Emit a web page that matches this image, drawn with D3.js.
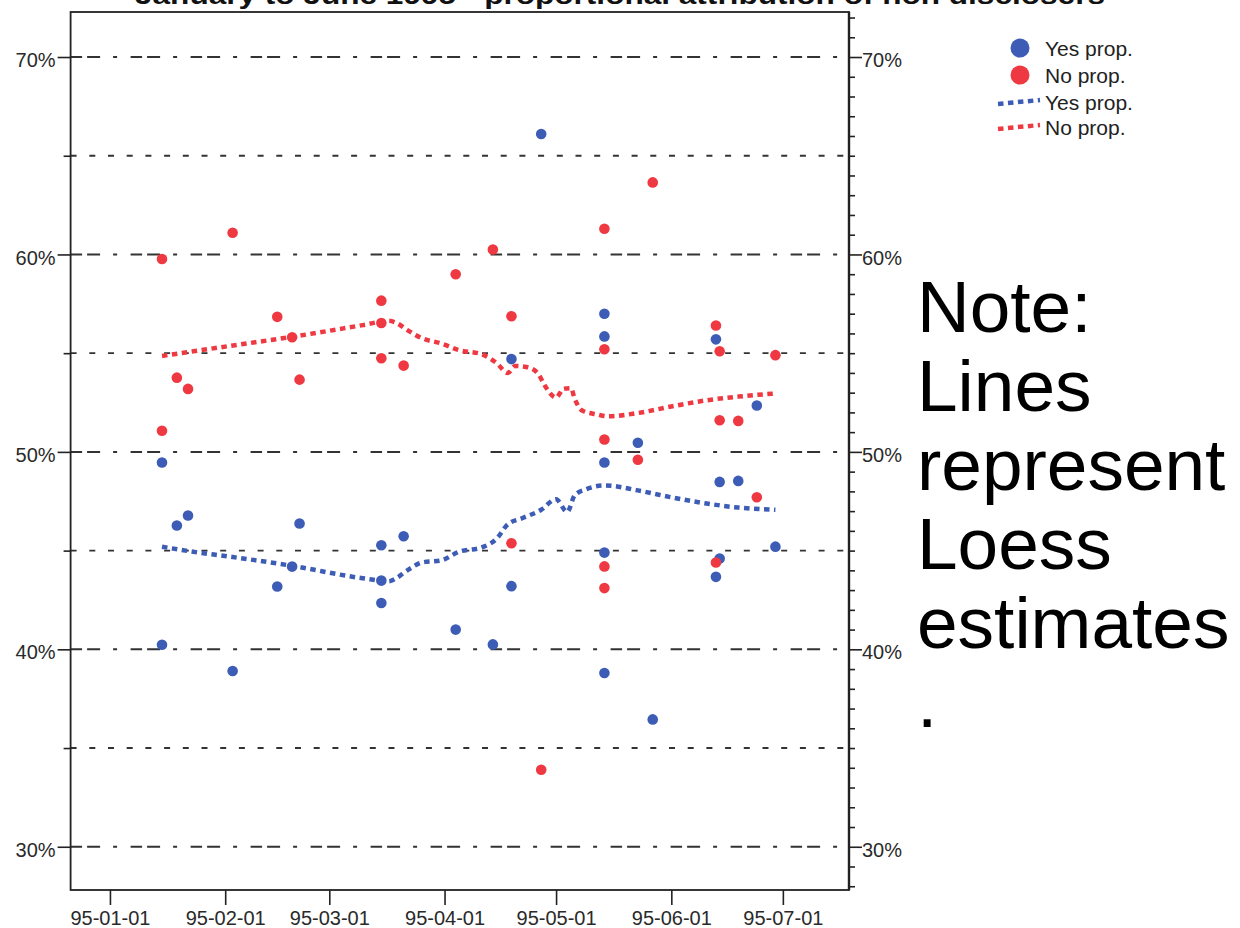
<!DOCTYPE html>
<html>
<head>
<meta charset="utf-8">
<script src="https://cdn.jsdelivr.net/npm/d3@7"></script>
<style>
  body { margin: 0; background: #fff; }
  svg { display: block; font-family: Arial, "Liberation Sans", sans-serif; }
</style>
</head>
<body>
<svg id="chart" width="1240" height="928"></svg>
<script>
// ---- Poll data: share of non-disclosers attributed to each side ----
const pollDates = [
  "1995-01-15","1995-01-15","1995-01-19","1995-01-22","1995-02-03",
  "1995-02-15","1995-02-19","1995-02-21","1995-03-15","1995-03-15",
  "1995-03-15","1995-03-21","1995-04-04","1995-04-14","1995-04-19",
  "1995-04-19","1995-04-27","1995-05-14","1995-05-14","1995-05-14",
  "1995-05-14","1995-05-14","1995-05-23","1995-05-27","1995-06-13",
  "1995-06-13","1995-06-14","1995-06-14","1995-06-19","1995-06-24",
  "1995-06-29"
];
const yesProp = [
  49.46, 40.23, 46.27, 46.78, 38.90,
  43.18, 44.19, 46.37, 45.27, 43.48,
  42.35, 45.73, 41.00, 40.25, 54.70,
  43.20, 66.10, 57.00, 55.85, 49.46,
  44.90, 38.80, 50.46, 36.45, 55.70,
  43.67, 48.48, 44.60, 48.53, 52.35,
  45.20
];
const noProp = [
  51.07, 59.77, 53.76, 53.19, 61.10,
  56.84, 55.81, 53.66, 54.74, 56.53,
  57.66, 54.37, 59.00, 60.25, 45.37,
  56.87, 33.90, 43.10, 44.20, 50.63,
  55.20, 61.30, 49.60, 63.65, 44.40,
  56.40, 51.60, 55.10, 51.57, 47.70,
  54.90
];

// ---- Loess estimates ----
const loessYesDates = [
  "1995-01-15","1995-01-23","1995-02-02","1995-02-19","1995-03-10",
  "1995-03-17","1995-03-19","1995-03-22","1995-03-26","1995-03-31",
  "1995-04-05","1995-04-11","1995-04-15","1995-04-18","1995-04-22",
  "1995-04-27","1995-05-01","1995-05-04","1995-05-06","1995-05-09",
  "1995-05-14","1995-05-23","1995-06-01","1995-06-10","1995-06-19",
  "1995-06-29"
];
const loessYes = [
  45.20, 44.95, 44.70, 44.23, 43.60,
  43.45, 43.60, 44.00, 44.40, 44.50,
  44.95, 45.16, 45.60, 46.33, 46.65,
  47.07, 47.60, 46.96, 47.80, 48.10,
  48.30, 48.05, 47.70, 47.40, 47.18,
  47.07
];
const loessNoDates = [
  "1995-01-15","1995-02-02","1995-02-19","1995-03-10","1995-03-17",
  "1995-03-19","1995-03-22","1995-03-26","1995-03-31","1995-04-05",
  "1995-04-11","1995-04-15","1995-04-18","1995-04-20","1995-04-23",
  "1995-04-26","1995-04-28","1995-05-01","1995-05-03","1995-05-05",
  "1995-05-06","1995-05-08","1995-05-12","1995-05-15","1995-05-23",
  "1995-06-01","1995-06-10","1995-06-19","1995-06-29"
];
const loessNo = [
  54.86, 55.36, 55.83, 56.42, 56.64,
  56.54, 56.17, 55.75, 55.50, 55.15,
  54.95, 54.50, 54.00, 54.35, 54.30,
  54.00, 53.35, 52.75, 53.20, 53.23,
  52.70, 52.10, 51.90, 51.80, 51.97,
  52.30, 52.60, 52.80, 52.96
];

// ---- Axis ticks and labels ----
const xTickDates  = ["1995-01-01","1995-02-01","1995-03-01","1995-04-01","1995-05-01","1995-06-01","1995-07-01"];
const xTickLabels = ["95-01-01","95-02-01","95-03-01","95-04-01","95-05-01","95-06-01","95-07-01"];
const yTickValues = [30, 40, 50, 60, 70];
const yTickLabels = ["30%", "40%", "50%", "60%", "70%"];
const yMidValues  = [35, 45, 55, 65];

const seriesNames  = ["Yes prop.", "No prop."];
const seriesColors = ["#3d5cb6", "#ef3942"];
const titleText = "January to June 1995 - proportional attribution of non disclosers";
const noteLines = ["Note:", "Lines", "represent", "Loess", "estimates", "."];

// ---- Layout ----
const plot = { left: 70.6, right: 849, top: 12, bottom: 890 };
const svg = d3.select("#chart");

const x = d3.scaleUtc()
  .domain([new Date(Date.UTC(1994, 11, 21, 10)), new Date(Date.UTC(1995, 6, 18, 19))])
  .range([plot.left, plot.right]);
const y = d3.scaleLinear()
  .domain([27.81, 72.28])
  .range([plot.bottom, plot.top]);

const parse = s => new Date(s + "T00:00:00Z");

// Title (sits above the plot frame, running off the top edge)
svg.append("text")
  .attr("x", 135).attr("y", 4)
  .attr("textLength", 970).attr("lengthAdjust", "spacingAndGlyphs")
  .attr("font-size", 25).attr("font-weight", "bold").attr("fill", "#111")
  .text(titleText);

// Reference lines
const gridG = svg.append("g");
gridG.selectAll("line.major").data(yTickValues).join("line")
  .attr("class", "major")
  .attr("x1", plot.left).attr("x2", plot.right)
  .attr("y1", d => y(d)).attr("y2", d => y(d))
  .attr("stroke", "#333").attr("stroke-width", 2)
  .attr("stroke-dasharray", "11.5,5,13,13,4,13.5");
gridG.selectAll("line.mid").data(yMidValues).join("line")
  .attr("class", "mid")
  .attr("x1", plot.left).attr("x2", plot.right)
  .attr("y1", d => y(d)).attr("y2", d => y(d))
  .attr("stroke", "#333").attr("stroke-width", 1.9)
  .attr("stroke-dasharray", "6,12.7");

// Loess lines
const loessLine = d3.line()
  .x(d => x(d[0])).y(d => y(d[1]))
  .curve(d3.curveMonotoneX);
const loessSets = [
  loessYesDates.map((d, i) => [parse(d), loessYes[i]]),
  loessNoDates.map((d, i) => [parse(d), loessNo[i]])
];
svg.append("g").selectAll("path").data(loessSets).join("path")
  .attr("d", loessLine)
  .attr("fill", "none")
  .attr("stroke", (d, i) => seriesColors[i])
  .attr("stroke-width", 4.5)
  .attr("stroke-dasharray", "5.5,4.5");

// Points: yes first, no on top
const pointsG = svg.append("g");
[yesProp, noProp].forEach((vals, si) => {
  pointsG.append("g").selectAll("circle")
    .data(vals.map((v, i) => [parse(pollDates[i]), v]))
    .join("circle")
    .attr("cx", d => x(d[0])).attr("cy", d => y(d[1]))
    .attr("r", 5.3)
    .attr("fill", seriesColors[si]);
});

// Axes
const axisColor = "#222";
const styleAxis = g => {
  g.select(".domain").remove();
  g.selectAll(".tick line").attr("stroke", axisColor).attr("stroke-width", 1.6);
  g.selectAll(".tick text").attr("fill", "#2a2a2a").attr("font-size", 20)
    .attr("font-family", "Arial, 'Liberation Sans', sans-serif");
};

// bottom
svg.append("g")
  .attr("transform", `translate(0,${plot.bottom})`)
  .call(d3.axisBottom(x)
    .tickValues(xTickDates.map(parse))
    .tickFormat((d, i) => xTickLabels[i])
    .tickSize(15).tickPadding(6))
  .call(styleAxis);

// left: labelled ticks + mid ticks
svg.append("g")
  .attr("transform", `translate(${plot.left},0)`)
  .call(d3.axisLeft(y)
    .tickValues(yTickValues)
    .tickFormat((d, i) => yTickLabels[i])
    .tickSize(13).tickPadding(2))
  .call(styleAxis)
  .call(g => g.selectAll(".tick text").attr("dy", "0.48em"));
svg.append("g")
  .attr("transform", `translate(${plot.left},0)`)
  .call(d3.axisLeft(y).tickValues(yMidValues).tickFormat("").tickSize(7))
  .call(styleAxis);

// right: labelled ticks + every-percent minor ticks
svg.append("g")
  .attr("transform", `translate(${plot.right},0)`)
  .call(d3.axisRight(y)
    .tickValues(yTickValues)
    .tickFormat((d, i) => yTickLabels[i])
    .tickSize(13).tickPadding(0))
  .call(styleAxis)
  .call(g => g.selectAll(".tick text").attr("dy", "0.48em"));
const minorRight = d3.range(28, 73).filter(v => !yTickValues.includes(v));
svg.append("g")
  .attr("transform", `translate(${plot.right},0)`)
  .call(d3.axisRight(y).tickValues(minorRight).tickFormat("").tickSize(6))
  .call(styleAxis);

// Frame
svg.append("rect")
  .attr("x", plot.left).attr("y", plot.top)
  .attr("width", plot.right - plot.left).attr("height", plot.bottom - plot.top)
  .attr("fill", "none").attr("stroke", axisColor).attr("stroke-width", 1.8);
svg.append("line")
  .attr("x1", plot.right).attr("x2", plot.right)
  .attr("y1", plot.top).attr("y2", plot.bottom)
  .attr("stroke", axisColor).attr("stroke-width", 2.4);

// Legend
const legend = svg.append("g");
const legendText = { x: 1045, size: 21, fill: "#222" };
seriesNames.forEach((name, i) => {
  const cy = 48 + i * 27;
  legend.append("circle").attr("cx", 1020).attr("cy", cy).attr("r", 9.5)
    .attr("fill", seriesColors[i]);
  legend.append("text").attr("x", legendText.x).attr("y", cy + 7.5)
    .attr("font-size", legendText.size).attr("fill", legendText.fill).text(name);
});
seriesNames.forEach((name, i) => {
  const cy = 102 + i * 25;
  legend.append("line")
    .attr("x1", 998).attr("y1", cy + 2).attr("x2", 1040).attr("y2", cy - 2)
    .attr("stroke", seriesColors[i]).attr("stroke-width", 4.5)
    .attr("stroke-dasharray", "5.5,4.5");
  legend.append("text").attr("x", legendText.x).attr("y", cy + 8)
    .attr("font-size", legendText.size).attr("fill", legendText.fill).text(name);
});

// Side note
svg.append("g").selectAll("text").data(noteLines).join("text")
  .attr("x", 917)
  .attr("y", (d, i) => 332 + i * 79)
  .attr("font-size", 73)
  .attr("fill", "#000")
  .text(d => d);
</script>
</body>
</html>
